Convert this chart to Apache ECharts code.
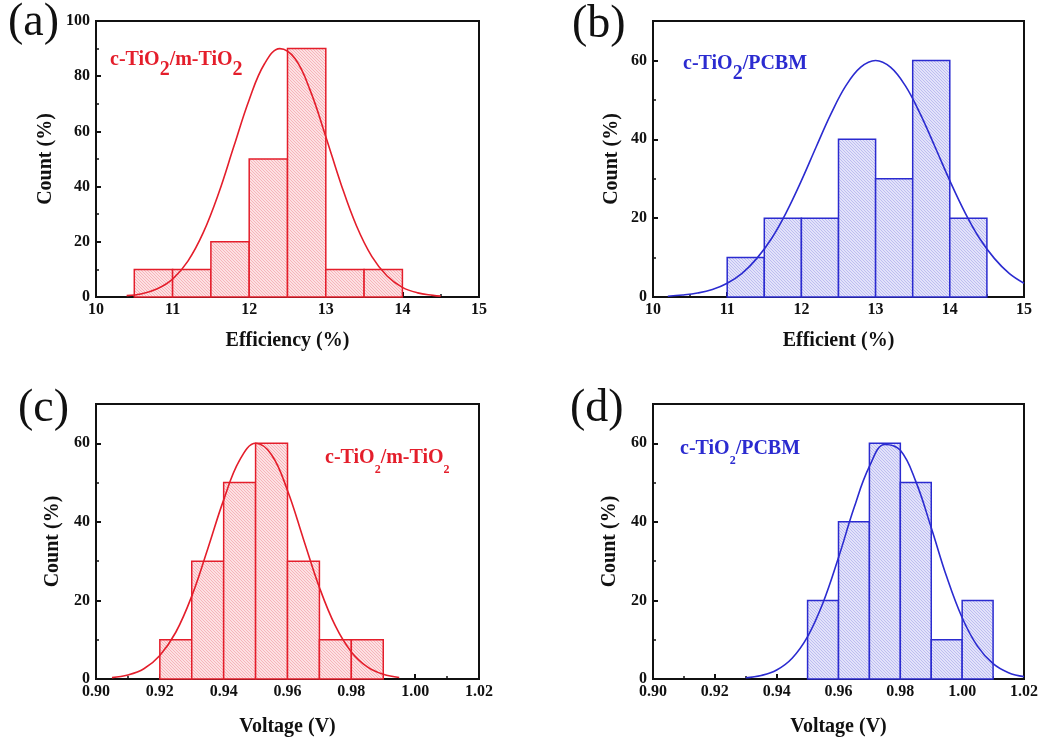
<!DOCTYPE html>
<html>
<head>
<meta charset="utf-8">
<script src="https://cdn.jsdelivr.net/npm/echarts@6/dist/echarts.min.js"></script>
<style>html,body{margin:0;padding:0;background:#fff}#c{width:1056px;height:743px}</style>
</head>
<body>
<div id="c"></div>
<script>
// ---------- data ----------
// (a) efficiency, c-TiO2/m-TiO2
const edgesA = [10.5, 11, 11.5, 12, 12.5, 13, 13.5, 14];
const countsA = [10, 10, 20, 50, 90, 10, 10];
const fitXA = [10.4, 10.6, 10.8, 11.0, 11.2, 11.4, 11.6, 11.8, 12.0, 12.2, 12.4, 12.6, 12.8, 13.0, 13.2, 13.4, 13.6, 13.8, 14.0, 14.2, 14.4, 14.5];
const fitYA = [0.5, 1.2, 3.0, 6.5, 13.0, 23.3, 37.5, 54.6, 71.5, 84.5, 90, 86.3, 74.6, 58.1, 40.8, 25.8, 14.7, 7.6, 3.5, 1.5, 0.6, 0.3];
// (b) efficiency, c-TiO2/PCBM
const edgesB = [11, 11.5, 12, 12.5, 13, 13.5, 14, 14.5];
const countsB = [10, 20, 20, 40, 30, 60, 20];
const fitXB = [10.2, 10.4, 10.6, 10.8, 11.0, 11.2, 11.4, 11.6, 11.8, 12.0, 12.2, 12.4, 12.6, 12.8, 13.0, 13.2, 13.4, 13.6, 13.8, 14.0, 14.2, 14.4, 14.6, 14.8, 15.0];
const fitYB = [0.2, 0.5, 1.0, 1.9, 3.5, 6.0, 9.8, 14.9, 21.6, 29.5, 38.1, 46.5, 53.6, 58.3, 60, 58.3, 53.6, 46.5, 38.1, 29.5, 21.6, 14.9, 9.8, 6.0, 3.5];
// (c) voltage, c-TiO2/m-TiO2
const edgesC = [0.92, 0.93, 0.94, 0.95, 0.96, 0.97, 0.98, 0.99];
const countsC = [10, 30, 50, 60, 30, 10, 10];
const fitXC = [0.905, 0.910, 0.915, 0.920, 0.925, 0.930, 0.935, 0.940, 0.945, 0.950, 0.955, 0.960, 0.965, 0.970, 0.975, 0.980, 0.985, 0.990, 0.995];
const fitYC = [0.35, 1.0, 2.6, 6.0, 11.9, 21.1, 33.1, 45.6, 55.7, 60, 57.1, 48.0, 35.6, 23.3, 13.5, 6.9, 3.1, 1.2, 0.4];
// (d) voltage, c-TiO2/PCBM
const edgesD = [0.95, 0.96, 0.97, 0.98, 0.99, 1.00, 1.01];
const countsD = [20, 40, 60, 50, 10, 20];
const fitXD = [0.930, 0.935, 0.940, 0.945, 0.950, 0.955, 0.960, 0.965, 0.970, 0.975, 0.980, 0.985, 0.990, 0.995, 1.000, 1.005, 1.010, 1.015, 1.020];
const fitYD = [0.3, 0.9, 2.3, 5.3, 10.8, 19.4, 30.9, 43.5, 54.1, 59.7, 58.2, 50.3, 38.5, 26.0, 15.6, 8.3, 3.9, 1.6, 0.6];

const panelLabels = ['(a)', '(b)', '(c)', '(d)'];
const xNames = ['Efficiency (%)', 'Efficient (%)', 'Voltage (V)', 'Voltage (V)'];
const yName = 'Count (%)';

// ---------- styles ----------
const RED = '#e41e2b';
const BLUE = '#2b2bd0';
const SERIF = '"Liberation Serif","Times New Roman",serif';

function hatch(bg, fg) {
  const c = document.createElement('canvas');
  c.width = 3; c.height = 3;
  const g = c.getContext('2d');
  g.fillStyle = bg; g.fillRect(0, 0, 3, 3);
  g.fillStyle = fg;
  g.fillRect(0, 0, 1, 1); g.fillRect(1, 1, 1, 1); g.fillRect(2, 2, 1, 1);
  return { image: c, repeat: 'repeat' };
}
const redFill = hatch('#fde0e2', '#f6b4ba');
const blueFill = hatch('#e2e2fa', '#bdbdf0');

function binData(edges, counts) {
  return counts.map((v, i) => [edges[i], edges[i + 1], v]);
}
function pairs(xs, ys) { return xs.map((x, i) => [x, ys[i]]); }

const grids = [
  { left: 96, top: 21, width: 383, height: 276 },
  { left: 653, top: 21, width: 371, height: 276 },
  { left: 96, top: 404, width: 383, height: 275 },
  { left: 653, top: 404, width: 371, height: 275 }
].map(g => Object.assign({ show: true, borderColor: '#111', borderWidth: 2, backgroundColor: 'transparent' }, g));

const lineStyleAx = { color: '#111', width: 2 };
const tickLbl = { color: '#111', fontFamily: SERIF, fontWeight: 'bold', fontSize: 16 };
const nameStyle = { color: '#111', fontFamily: SERIF, fontWeight: 'bold', fontSize: 20 };

function xAxis(i, min, max, interval, dec) {
  return {
    gridIndex: i, type: 'value', min, max, interval,
    name: xNames[i], nameLocation: 'middle', nameGap: i < 2 ? 34 : 38, nameTextStyle: nameStyle,
    axisLine: { show: true, lineStyle: lineStyleAx },
    axisTick: { show: true, inside: true, length: 5, lineStyle: lineStyleAx },
    minorTick: { show: true, splitNumber: 2, length: 3, lineStyle: { color: '#111', width: 1.5 } },
    splitLine: { show: false },
    axisLabel: Object.assign({ margin: 5, showMinLabel: true, showMaxLabel: true, formatter: v => v.toFixed(dec) }, tickLbl)
  };
}
function yAxis(i, max, gap) {
  return {
    gridIndex: i, type: 'value', min: 0, max, interval: 20,
    name: yName, nameLocation: 'middle', nameGap: gap, nameTextStyle: nameStyle,
    axisLine: { show: true, lineStyle: lineStyleAx },
    axisTick: { show: true, inside: true, length: 5, lineStyle: lineStyleAx },
    minorTick: { show: true, splitNumber: 2, length: 3, lineStyle: { color: '#111', width: 1.5 } },
    splitLine: { show: false },
    axisLabel: Object.assign({ margin: 6, showMaxLabel: max === 100, formatter: v => String(Math.round(v)) }, tickLbl)
  };
}

function histSeries(i, data, color, fill) {
  return {
    type: 'custom', xAxisIndex: i, yAxisIndex: i, z: 2,
    data,
    encode: { x: [0, 1], y: 2 },
    renderItem: (params, api) => {
      const p0 = api.coord([api.value(0), api.value(2)]);
      const p1 = api.coord([api.value(1), 0]);
      return {
        type: 'rect',
        shape: { x: p0[0], y: p0[1], width: p1[0] - p0[0], height: p1[1] - p0[1] },
        style: { fill: fill, stroke: color, lineWidth: 1.5 }
      };
    }
  };
}
function fitSeries(i, data, color) {
  return {
    type: 'line', xAxisIndex: i, yAxisIndex: i, z: 5,
    data, smooth: 0.4, showSymbol: false, symbol: 'none',
    lineStyle: { color, width: 1.6 }, itemStyle: { color }
  };
}

function labelText(x, y, txt) {
  return { type: 'text', left: x, top: y, style: { text: txt, font: '46px ' + SERIF, fill: '#111' } };
}
function annot(x, y, parts, color, subSize, subLH) {
  let t = '';
  parts.forEach(p => { t += p[1] ? '{s|' + p[0] + '}' : '{n|' + p[0] + '}'; });
  return {
    type: 'text', left: x, top: y,
    style: {
      text: t, fill: color,
      rich: {
        n: { fontFamily: SERIF, fontWeight: 'bold', fontSize: 20, fill: color, verticalAlign: 'top', lineHeight: 22 },
        s: { fontFamily: SERIF, fontWeight: 'bold', fontSize: subSize, fill: color, verticalAlign: 'bottom', lineHeight: subLH }
      }
    }
  };
}
const partsM = [['c-TiO'], ['2', 1], ['/m-TiO'], ['2', 1]];
const partsP = [['c-TiO'], ['2', 1], ['/PCBM']];

const option = {
  animation: false,
  backgroundColor: '#fff',
  grid: grids,
  xAxis: [xAxis(0, 10, 15, 1, 0), xAxis(1, 10, 15, 1, 0), xAxis(2, 0.90, 1.02, 0.02, 2), xAxis(3, 0.90, 1.02, 0.02, 2)],
  yAxis: [yAxis(0, 100, 40), yAxis(1, 70, 31), yAxis(2, 70, 33), yAxis(3, 70, 33)],
  series: [
    histSeries(0, binData(edgesA, countsA), RED, redFill),
    fitSeries(0, pairs(fitXA, fitYA), RED),
    histSeries(1, binData(edgesB, countsB), BLUE, blueFill),
    fitSeries(1, pairs(fitXB, fitYB), BLUE),
    histSeries(2, binData(edgesC, countsC), RED, redFill),
    fitSeries(2, pairs(fitXC, fitYC), RED),
    histSeries(3, binData(edgesD, countsD), BLUE, blueFill),
    fitSeries(3, pairs(fitXD, fitYD), BLUE)
  ],
  graphic: [
    labelText(8, 0, panelLabels[0]),
    labelText(572, 2, panelLabels[1]),
    labelText(18, 386, panelLabels[2]),
    labelText(570, 386, panelLabels[3]),
    annot(110, 50, partsM, RED, 20, 30),
    annot(683, 54, partsP, BLUE, 20, 30),
    annot(325, 448, partsM, RED, 12, 28),
    annot(680, 439, partsP, BLUE, 12, 28)
  ]
};

const chart = echarts.init(document.getElementById('c'), null, { renderer: 'canvas' });
chart.setOption(option);
</script>
</body>
</html>
